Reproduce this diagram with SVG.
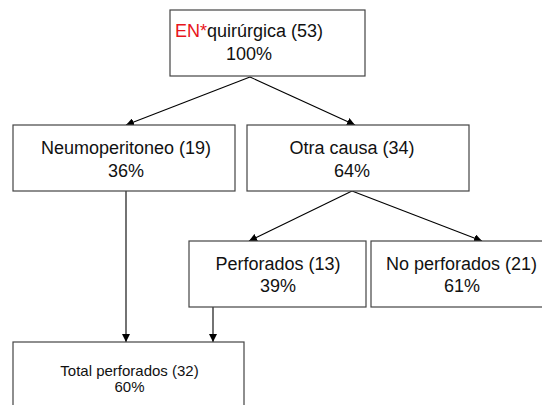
<svg xmlns="http://www.w3.org/2000/svg" width="542" height="405" viewBox="0 0 542 405">
<defs>
<marker id="ah" viewBox="0 0 10 10" refX="10" refY="5" markerWidth="8" markerHeight="8" markerUnits="userSpaceOnUse" orient="auto">
<path d="M0,0 L10,5 L0,10 z" fill="#000"/>
</marker>
<style>
.box{fill:#fff;stroke:#444;stroke-width:1.2}
.t{font-family:"Liberation Sans",Arial,Helvetica,sans-serif;font-size:18px;fill:#111;text-anchor:middle}
.s{font-size:15px}
.c{stroke:#000;stroke-width:1.1;fill:none;marker-end:url(#ah)}
</style>
</defs>
<rect width="542" height="405" fill="#fff"/>
<g id="connectors">
<line class="c" x1="250" y1="77" x2="126" y2="125"/>
<line class="c" x1="250" y1="77" x2="355" y2="125"/>
<line class="c" x1="126" y1="191" x2="126" y2="342"/>
<line class="c" x1="352" y1="191" x2="249" y2="241"/>
<line class="c" x1="352" y1="191" x2="482" y2="241"/>
<line class="c" x1="213" y1="307" x2="213" y2="342"/>
</g>
<g id="n-root">
<rect class="box" x="170" y="10" width="195" height="66"/>
<text class="t" x="249" y="37"><tspan fill="#e8141b">EN*</tspan>quirúrgica (53)</text>
<text class="t" x="249" y="60">100%</text>
</g>
<g id="n-neumo">
<rect class="box" x="13" y="125" width="222" height="66"/>
<text class="t" x="126" y="154">Neumoperitoneo (19)</text>
<text class="t" x="126" y="177">36%</text>
</g>
<g id="n-otra">
<rect class="box" x="247" y="125" width="222" height="66"/>
<text class="t" x="352" y="154">Otra causa (34)</text>
<text class="t" x="352" y="177">64%</text>
</g>
<g id="n-perf">
<rect class="box" x="189" y="241" width="177" height="66"/>
<text class="t" x="278" y="270">Perforados (13)</text>
<text class="t" x="278" y="292">39%</text>
</g>
<g id="n-noperf">
<rect class="box" x="371" y="241" width="180" height="66"/>
<text class="t" x="461.5" y="270">No perforados (21)</text>
<text class="t" x="462" y="292">61%</text>
</g>
<g id="n-total">
<rect class="box" x="13" y="342" width="231" height="70"/>
<text class="t s" x="129.5" y="376">Total perforados (32)</text>
<text class="t s" x="129.5" y="392">60%</text>
</g>
</svg>
